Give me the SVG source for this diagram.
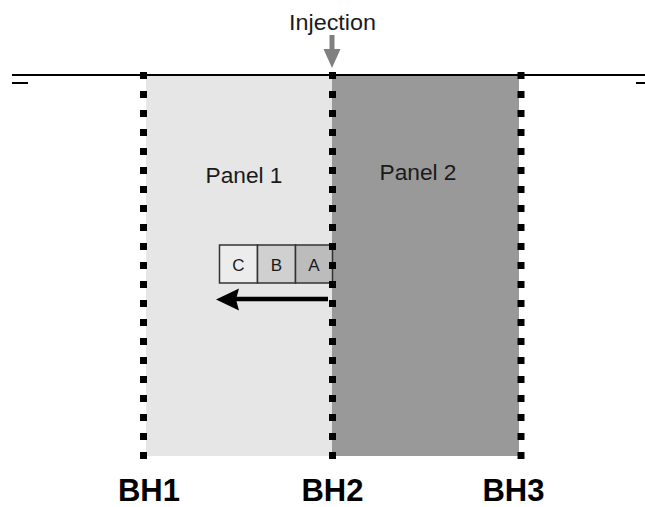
<svg xmlns="http://www.w3.org/2000/svg" width="645" height="507" viewBox="0 0 645 507">
<style>
text{font-family:"Liberation Sans",Arial,sans-serif;fill:#1a1a1a}
.lbl{font-size:22px}
.bh{font-size:31px;font-weight:bold;fill:#000}
.box{stroke:#333;stroke-width:1.5}
.pk{font-size:17px}
.bore{stroke:#000;stroke-width:7;stroke-dasharray:7 12;fill:none}
.ground{stroke:#000;stroke-width:2;fill:none}
</style>
<rect width="645" height="507" fill="#fff"/>
<g id="panel1">
<rect x="146" y="75" width="186" height="381" fill="#e6e6e6"/>
<text class="lbl" x="244" y="183" text-anchor="middle" textLength="77" lengthAdjust="spacingAndGlyphs">Panel 1</text>
</g>
<g id="panel2">
<rect x="332" y="75" width="187" height="381" fill="#999999"/>
<text class="lbl" x="418" y="180" text-anchor="middle" textLength="77" lengthAdjust="spacingAndGlyphs">Panel 2</text>
</g>
<g id="ground">
<line class="ground" x1="12" y1="75" x2="645" y2="75"/>
<line class="ground" x1="12" y1="83" x2="28" y2="83"/>
<line class="ground" x1="636" y1="83" x2="645" y2="83"/>
</g>
<g id="packets">
<rect class="box" x="219.5" y="245" width="38" height="38" fill="#ececec"/>
<rect class="box" x="257.5" y="245" width="38" height="38" fill="#d0d0d0"/>
<rect class="box" x="295.5" y="245" width="37" height="38" fill="#bcbcbc"/>
<text class="pk" x="238.5" y="270.5" text-anchor="middle">C</text>
<text class="pk" x="276.5" y="270.5" text-anchor="middle">B</text>
<text class="pk" x="314" y="270.5" text-anchor="middle">A</text>
</g>
<g id="bh1">
<line class="bore" x1="143.5" y1="72" x2="143.5" y2="459"/>
<text class="bh" x="149" y="501" text-anchor="middle">BH1</text>
</g>
<g id="bh2">
<line class="bore" x1="332.5" y1="72" x2="332.5" y2="459"/>
<text class="bh" x="332.5" y="501" text-anchor="middle">BH2</text>
</g>
<g id="bh3">
<line class="bore" x1="521" y1="72" x2="521" y2="459"/>
<text class="bh" x="513.5" y="501" text-anchor="middle">BH3</text>
</g>
<g id="injection">
<text class="lbl" x="332.5" y="30" text-anchor="middle" textLength="87" lengthAdjust="spacingAndGlyphs">Injection</text>
</g>
<g id="connectors">
<line x1="332" y1="35" x2="332" y2="50" stroke="#808080" stroke-width="5"/>
<polygon points="323.5,49 340.5,49 332,68" fill="#808080"/>
<line x1="328" y1="299" x2="234" y2="299" stroke="#000" stroke-width="4.5"/>
<polygon points="216,299.5 239,288.5 236,299.5 239,310.5" fill="#000"/>
</g>
</svg>
